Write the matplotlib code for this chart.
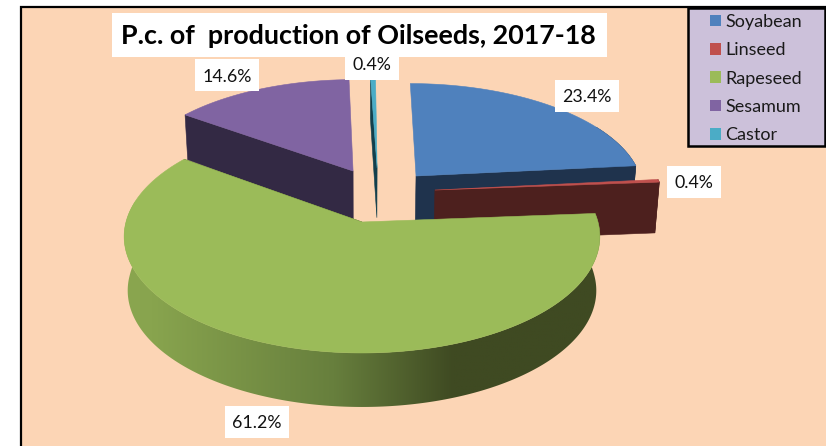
import numpy as np
import matplotlib
matplotlib.use("Agg")
import matplotlib.pyplot as plt
from matplotlib.colors import LinearSegmentedColormap
from matplotlib.patches import Polygon, Rectangle, Patch

categories = ["Soyabean", "Linseed", "Rapeseed", "Sesamum", "Castor"]
values = [23.4, 0.4, 61.2, 14.6, 0.4]
value_labels = ["23.4%", "0.4%", "61.2%", "14.6%", "0.4%"]
title = "P.c. of  production of Oilseeds, 2017-18"

top_colors = ["#4f81bd", "#c0504d", "#9bbb59", "#8064a2", "#4bacc6"]
wall_colors = ["#1f334d", "#4d201e", "#3f4d22", "#332944", "#123f4c"]
explode = [(0.241, 0.4226), (0.32, 0.289), (0.0, 0.0), (-0.04, 0.471), (0.068, 0.5007)]
label_centers = [(587, 96), (694, 182), (257, 422), (227, 75), (372, 63.5)]

plt.rcParams["font.family"] = ["Lato", "DejaVu Sans"]
W, H = 826, 446
fig = plt.figure(figsize=(W / 100, H / 100), dpi=100, facecolor="white")
ax = fig.add_axes([0, 0, 1, 1])
ax.set_xlim(0, W)
ax.set_ylim(H, 0)
ax.axis("off")

CX, CY, R, HT, K = 362.0, 222.0, 236.0, 114.6, 0.125


def project(u, v, down=False):
    u, v = np.asarray(u, float), np.asarray(v, float)
    s = 1.0 / (1.0 + K * v)
    x = CX + R * u * s
    y = CY - HT * v * s
    if down:
        x = CX + (x - CX) * 0.985
        y = y + 54.0 * (1 - 0.16 * np.clip(v, 0, None))
    return x, y


ax.add_patch(Rectangle((20.5, 6.5), W, H, fc="#fcd5b5", ec="black", lw=1.6, zorder=0))

# slice angles, clockwise from the top
ends = 90.0 - np.cumsum(values) * 3.6
starts = np.r_[90.0, ends[:-1]]
shade = LinearSegmentedColormap.from_list(
    "shade", [(0.0, "#8ca850"), (0.1, "#88a44e"), (0.45, "#677f3d"), (0.68, "#3f4a22"), (1.0, "#3f4a22")])

# back to front order
order = [4, 3, 0, 1, 2]
for z, i in enumerate(order):
    a0, a1 = starts[i], ends[i]
    eu, ev = explode[i]
    zb = 2 + z
    au, av = project(eu, ev)
    aub, avb = project(eu, ev, True)
    # radial wall
    wall_a = np.radians(a0 if i in (3, 4) else a1)
    fu, fv = np.cos(wall_a) + eu, np.sin(wall_a) + ev
    fx, fy = project(fu, fv)
    fxb, fyb = project(fu, fv, True)
    ax.add_patch(Polygon([(au, av), (fx, fy), (fxb, fyb), (aub, avb)], closed=True,
                         fc=wall_colors[i], ec=wall_colors[i], lw=0.4, zorder=zb))
    # outer wall and top face
    th = np.radians(np.linspace(a0, a1, 300))
    us, vs = np.cos(th) + eu, np.sin(th) + ev
    tx, ty = project(us, vs)
    bx, by = project(us, vs, True)
    if i == 2:
        keep = vs < 0.2
        wall = Polygon(np.c_[np.r_[tx[keep], bx[keep][::-1]], np.r_[ty[keep], by[keep][::-1]]],
                       closed=True, fc="none", ec="none", transform=ax.transData)
        ax.add_patch(wall)
        im = ax.imshow(np.linspace(0, 1, 256)[None, :], cmap=shade, vmin=0, vmax=1, aspect="auto",
                       extent=(100, 620, 420, 200), zorder=zb, interpolation="bilinear")
        im.set_clip_path(wall)
        ax.set_xlim(0, W)
        ax.set_ylim(H, 0)
    elif i in (0, 1):
        keep = np.sin(th) < 0.5
        ax.add_patch(Polygon(np.c_[np.r_[tx[keep], bx[keep][::-1]], np.r_[ty[keep], by[keep][::-1]]], closed=True,
                             fc=wall_colors[i], ec=wall_colors[i], lw=0.4, zorder=zb))
    ax.add_patch(Polygon(np.c_[np.r_[au, tx], np.r_[av, ty]], closed=True,
                         fc=top_colors[i], ec=top_colors[i], lw=0.4, zorder=zb + 0.5))

for (lx, ly), t in zip(label_centers, value_labels):
    bw = 64 if len(t) == 5 else 54
    ax.add_patch(Rectangle((lx - bw / 2, ly - 16), bw, 32, fc="white", ec="none", zorder=19))
    ax.text(lx, ly + 1.5, t, fontsize=12.8, color="#111111", ha="center", va="center", zorder=20)

ax.add_patch(Rectangle((112, 13), 495, 44, fc="white", ec="none", zorder=21))
ax.text(358, 36, title, fontsize=19.4, fontweight="bold", color="black", ha="center", va="center", zorder=22)

ax.add_patch(Rectangle((687.5, 7.5), 137, 138, fc="#ccc1da", ec="black", lw=1.8, zorder=29))
handles = [Patch(fc=c, ec="none") for c in top_colors]
leg = ax.legend(handles, categories, loc="upper left", bbox_to_anchor=(710 / W, 1 - 14 / H),
                bbox_transform=fig.transFigure, fontsize=13, frameon=False,
                handlelength=0.61, handleheight=0.61, handletextpad=0.22, labelspacing=0.68,
                borderpad=0, borderaxespad=0, labelcolor="#1a1a1a")
leg.set_zorder(30)
fig.savefig("out.png", dpi=100, facecolor="white")
